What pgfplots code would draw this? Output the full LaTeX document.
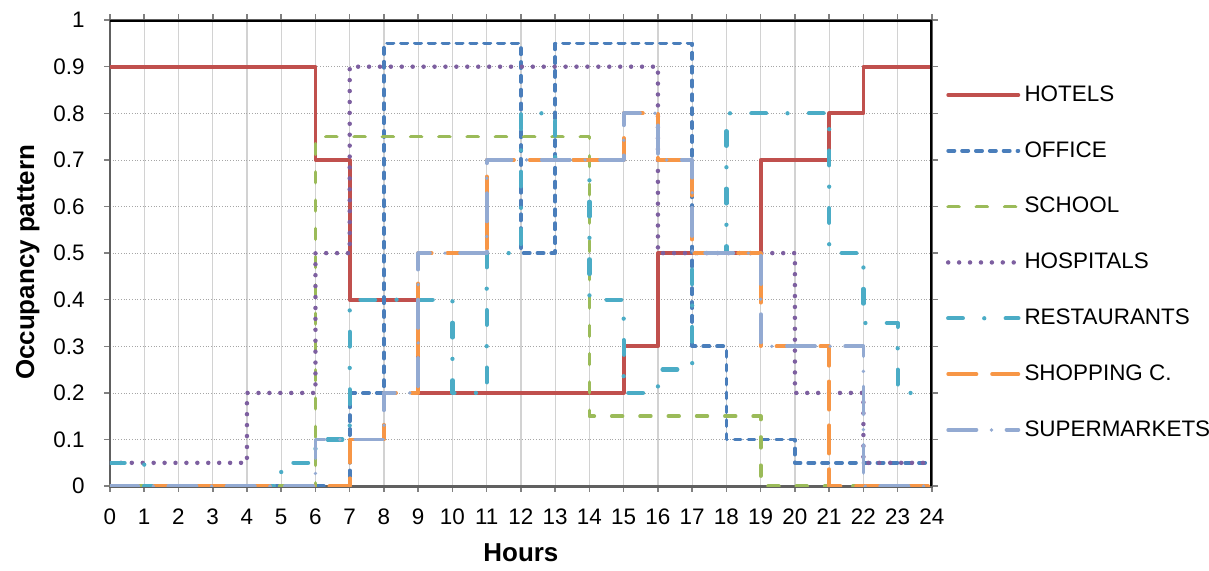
\documentclass[border=0pt]{standalone}
\usepackage{pgfplots}
\pgfplotsset{compat=1.18}
\usepackage{fontspec}
\setmainfont{Liberation Sans}

\definecolor{hotelc}{HTML}{C0504D}
\definecolor{officec}{HTML}{4A7EBB}
\definecolor{schoolc}{HTML}{9BBB59}
\definecolor{hospc}{HTML}{7D5FA0}
\definecolor{restc}{HTML}{4BACC6}
\definecolor{shopc}{HTML}{F79646}
\definecolor{superc}{HTML}{93AAD2}

\tikzset{rc/.style={line cap=round, line join=round}}

\begin{document}
\begin{tikzpicture}
\useasboundingbox (-56.4pt,-43.1pt) rectangle (563.6pt,249.3pt);
\begin{axis}[
    scale only axis,
    width=421.5pt, height=239pt,
    xmin=0, xmax=24, ymin=0, ymax=1,
    xtick={0,1,...,24},
    ytick={0,0.1,0.2,0.3,0.4,0.5,0.6,0.7,0.8,0.9,1},
    /pgf/number format/assume math mode=true,
    yticklabel style={/pgf/number format/fixed, /pgf/number format/precision=1, xshift=-6.5pt},
    xticklabel style={yshift=-5pt},
    ticklabel style={font=\fontsize{11.5}{13}\selectfont},
    tick align=outside,
    major tick length=3pt,
    tick style={gray, line width=0.8pt},
    xmajorgrids, ymajorgrids,
    major x grid style={gray!35, line width=0.6pt},
    major y grid style={densely dotted, gray!70, line width=0.4pt},
    axis line style={gray!75!black, line width=1.4pt},
    const plot,
    xlabel={\textbf{Hours}},
    ylabel={\textbf{Occupancy pattern}},
    label style={font=\fontsize{13.3}{15}\selectfont},
    ylabel style={at={(axis description cs:-0.1,0.48)}, anchor=center},
    xlabel style={at={(axis description cs:0.5,0)}, anchor=center, yshift=-34pt},
    legend image code/.code={\draw[#1] (0pt,0pt) -- (36pt,0pt);},
    legend cell align=left,
    legend style={draw=none, fill=none, at={(axis description cs:1,0.48)}, anchor=west,
        xshift=4pt, font=\fontsize{11.5}{13}\selectfont, row sep=15.1pt},
]
\addplot[hotelc, rc, line width=1.9pt] coordinates {(0,0.9) (6,0.7) (7,0.4) (9,0.2) (15,0.3) (16,0.5) (19,0.7) (21,0.8) (22,0.9) (24,0.9)};
\addlegendentry{HOTELS}
\addplot[officec, rc, line width=1.9pt, dash pattern=on 3.2pt off 3.9pt] coordinates {(0,0) (7,0.2) (8,0.95) (12,0.5) (13,0.95) (17,0.3) (18,0.1) (20,0.05) (24,0.05)};
\addlegendentry{OFFICE}
\addplot[schoolc, rc, line width=1.9pt, dash pattern=on 5.5pt off 9pt] coordinates {(0,0) (6,0.75) (14,0.15) (19,0) (24,0)};
\addlegendentry{SCHOOL}
\addplot[hospc, rc, line width=2.3pt, dash pattern=on 0pt off 5.6pt] coordinates {(0,0.05) (4,0.2) (6,0.5) (7,0.9) (16,0.5) (20,0.2) (22,0.05) (24,0.05)};
\addlegendentry{HOSPITALS}
\addplot[restc, rc, line width=2.2pt, dash pattern=on 7.5pt off 11pt on 0pt off 11pt] coordinates {(0,0.05) (1,0) (5,0.05) (6,0.1) (7,0.4) (10,0.2) (11,0.5) (12,0.8) (13,0.7) (14,0.4) (15,0.2) (16,0.25) (17,0.5) (18,0.8) (21,0.5) (22,0.35) (23,0.2) (24,0.2)};
\addlegendentry{RESTAURANTS}
\addplot[shopc, rc, line width=1.9pt, dash pattern=on 14.5pt off 8pt] coordinates {(0,0) (7,0.1) (8,0.2) (9,0.5) (11,0.7) (15,0.8) (16,0.7) (17,0.5) (19,0.3) (21,0) (24,0)};
\addlegendentry{SHOPPING C.}
\addplot[superc, rc, line width=1.9pt, dash pattern=on 14.5pt off 7.7pt on 0pt off 7.7pt] coordinates {(0,0) (6,0.1) (8,0.2) (9,0.5) (11,0.7) (15,0.8) (16,0.7) (17,0.5) (19,0.3) (22,0) (24,0)};
\addlegendentry{SUPERMARKETS}
\draw[black, line width=1.8pt] (rel axis cs:0,1) -- (rel axis cs:1,1) -- (rel axis cs:1,0);
\end{axis}
\end{tikzpicture}
\end{document}
